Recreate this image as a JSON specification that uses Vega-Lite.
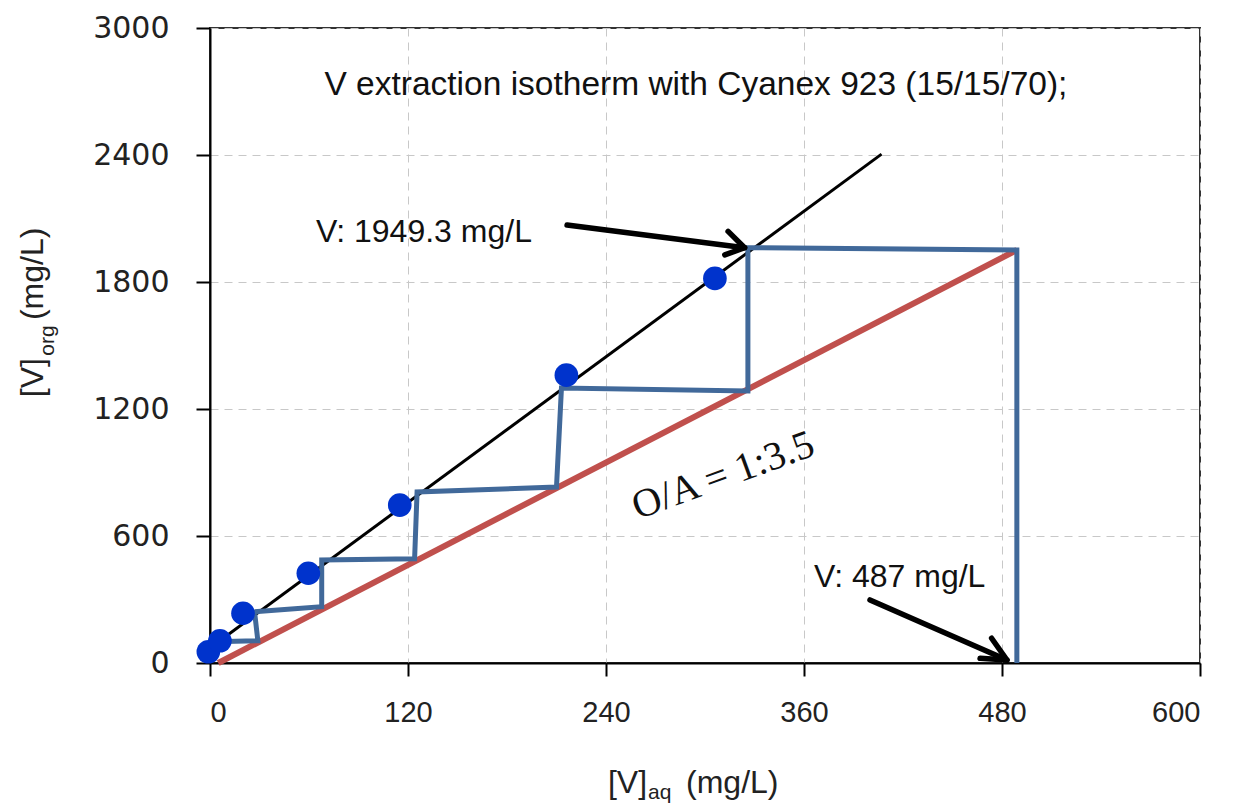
{
  "$schema": "https://vega.github.io/schema/vega-lite/v6.json",
  "width": 990,
  "height": 635,
  "autosize": "none",
  "padding": {"left": 210, "top": 28, "right": 41, "bottom": 143},
  "background": "white",
  "config": {
    "view": {"stroke": "#333333", "strokeWidth": 2},
    "font": "Liberation Sans"
  },
  "datasets": {
    "pts": [
      {"x": -1, "y": 53},
      {"x": 6, "y": 105},
      {"x": 20, "y": 235},
      {"x": 59.6, "y": 424},
      {"x": 115, "y": 746},
      {"x": 216, "y": 1360},
      {"x": 306, "y": 1817}
    ],
    "lines": [
      {"series": "fit", "i": 0, "x": 0, "y": 71},
      {"series": "fit", "i": 1, "x": 407, "y": 2404},
      {"series": "op", "i": 0, "x": 5, "y": 0},
      {"series": "op", "i": 1, "x": 489, "y": 1951},
      {"series": "steps", "i": 0, "x": 489, "y": 0},
      {"series": "steps", "i": 1, "x": 489, "y": 1951},
      {"series": "steps", "i": 2, "x": 326, "y": 1962},
      {"series": "steps", "i": 3, "x": 326, "y": 1285},
      {"series": "steps", "i": 4, "x": 213, "y": 1299},
      {"series": "steps", "i": 5, "x": 210, "y": 831},
      {"series": "steps", "i": 6, "x": 125.5, "y": 808},
      {"series": "steps", "i": 7, "x": 124, "y": 492},
      {"series": "steps", "i": 8, "x": 67.7, "y": 487},
      {"series": "steps", "i": 9, "x": 67.7, "y": 266},
      {"series": "steps", "i": 10, "x": 27, "y": 242},
      {"series": "steps", "i": 11, "x": 29, "y": 105},
      {"series": "steps", "i": 12, "x": 3, "y": 100},
      {"series": "a1", "i": 0, "x": 216.4, "y": 2069},
      {"series": "a1", "i": 1, "x": 324, "y": 1962},
      {"series": "a1h", "i": 0, "x": 314, "y": 2039},
      {"series": "a1h", "i": 1, "x": 324, "y": 1962},
      {"series": "a1h", "i": 2, "x": 312, "y": 1928},
      {"series": "a2", "i": 0, "x": 400, "y": 298},
      {"series": "a2", "i": 1, "x": 483, "y": 14},
      {"series": "a2h", "i": 0, "x": 473.7, "y": 117},
      {"series": "a2h", "i": 1, "x": 483, "y": 14},
      {"series": "a2h", "i": 2, "x": 466.7, "y": 22}
    ]
  },
  "layer": [
    {
      "data": {"name": "lines"},
      "transform": [{"filter": "datum.series == 'fit'"}],
      "mark": {"type": "line", "color": "#000000", "strokeWidth": 3, "strokeCap": "butt"},
      "encoding": {
        "x": {
          "field": "x", "type": "quantitative",
          "scale": {"domain": [0, 600], "nice": false, "zero": false},
          "axis": {
            "values": [0, 120, 240, 360, 480, 600],
            "title": null,
            "domainColor": "#000000", "domainWidth": 2,
            "tickColor": "#000000", "tickWidth": 2, "tickSize": 13,
            "labelFont": "Liberation Sans", "labelFontSize": 29, "labelColor": "#222222",
            "labelPadding": 22,
            "gridColor": "#c8c8c8", "gridDash": [8, 6], "gridWidth": 1
          }
        },
        "y": {
          "field": "y", "type": "quantitative",
          "scale": {"domain": [0, 3000], "nice": false, "zero": false},
          "axis": {
            "values": [0, 600, 1200, 1800, 2400, 3000],
            "format": "d",
            "title": null,
            "domainColor": "#000000", "domainWidth": 2,
            "tickColor": "#000000", "tickWidth": 2, "tickSize": 14,
            "labelFont": "DejaVu Sans", "labelFontSize": 30, "labelColor": "#222222",
            "labelPadding": 27,
            "gridColor": "#c8c8c8", "gridDash": [8, 6], "gridWidth": 1
          }
        },
        "order": {"field": "i", "type": "quantitative"}
      }
    },
    {
      "data": {"name": "lines"},
      "transform": [{"filter": "datum.series == 'op'"}],
      "mark": {"type": "line", "color": "#C0504D", "strokeWidth": 6, "strokeCap": "butt"},
      "encoding": {
        "x": {"field": "x", "type": "quantitative"},
        "y": {"field": "y", "type": "quantitative"},
        "order": {"field": "i", "type": "quantitative"}
      }
    },
    {
      "data": {"name": "lines"},
      "transform": [{"filter": "datum.series == 'steps'"}],
      "mark": {"type": "line", "color": "#41699A", "strokeWidth": 5, "strokeCap": "butt", "strokeJoin": "miter"},
      "encoding": {
        "x": {"field": "x", "type": "quantitative"},
        "y": {"field": "y", "type": "quantitative"},
        "order": {"field": "i", "type": "quantitative"}
      }
    },
    {
      "data": {"name": "lines"},
      "transform": [{"filter": "datum.series != 'fit' && datum.series != 'op' && datum.series != 'steps'"}],
      "mark": {"type": "line", "color": "#000000", "strokeWidth": 5.5, "strokeCap": "round", "strokeJoin": "round"},
      "encoding": {
        "x": {"field": "x", "type": "quantitative"},
        "y": {"field": "y", "type": "quantitative"},
        "detail": {"field": "series"},
        "order": {"field": "i", "type": "quantitative"}
      }
    },
    {
      "data": {"name": "pts"},
      "mark": {"type": "point", "shape": "circle", "filled": true, "opacity": 1, "color": "#0033CC", "size": 560, "clip": false},
      "encoding": {
        "x": {"field": "x", "type": "quantitative"},
        "y": {"field": "y", "type": "quantitative"}
      }
    },
    {
      "data": {"values": [
        {"t": "V extraction isotherm with Cyanex 923 (15/15/70);", "x": 294.5, "y": 2730}
      ]},
      "mark": {"type": "text", "font": "Liberation Sans", "fontSize": 33.5, "color": "#111111", "align": "center", "baseline": "middle"},
      "encoding": {
        "x": {"field": "x", "type": "quantitative"},
        "y": {"field": "y", "type": "quantitative"},
        "text": {"field": "t"}
      }
    },
    {
      "data": {"values": [
        {"t": "V: 1949.3 mg/L", "x": 129.7, "y": 2036},
        {"t": "V: 487 mg/L", "x": 418, "y": 406}
      ]},
      "mark": {"type": "text", "font": "Liberation Sans", "fontSize": 32, "color": "#111111", "align": "center", "baseline": "middle"},
      "encoding": {
        "x": {"field": "x", "type": "quantitative"},
        "y": {"field": "y", "type": "quantitative"},
        "text": {"field": "t"}
      }
    },
    {
      "data": {"values": [{"t": "O/A = 1:3.5", "x": 311, "y": 885}]},
      "mark": {"type": "text", "font": "Liberation Serif", "fontSize": 40, "color": "#111111", "align": "center", "baseline": "middle", "angle": 340},
      "encoding": {
        "x": {"field": "x", "type": "quantitative"},
        "y": {"field": "y", "type": "quantitative"},
        "text": {"field": "t"}
      }
    },
    {
      "data": {"values": [
        {"t": "[V]", "x": 241.2, "y": -567},
        {"t": "(mg/L)", "x": 288.5, "y": -567}
      ]},
      "mark": {"type": "text", "font": "Liberation Sans", "fontSize": 32, "color": "#222222", "align": "left", "baseline": "middle", "clip": false},
      "encoding": {
        "x": {"field": "x", "type": "quantitative"},
        "y": {"field": "y", "type": "quantitative"},
        "text": {"field": "t"}
      }
    },
    {
      "data": {"values": [{"t": "aq", "x": 265.5, "y": -614}]},
      "mark": {"type": "text", "font": "Liberation Sans", "fontSize": 21, "color": "#222222", "align": "left", "baseline": "middle", "clip": false},
      "encoding": {
        "x": {"field": "x", "type": "quantitative"},
        "y": {"field": "y", "type": "quantitative"},
        "text": {"field": "t"}
      }
    },
    {
      "data": {"values": [
        {"t": "[V]", "x": -107, "y": 1256},
        {"t": "(mg/L)", "x": -107, "y": 1620}
      ]},
      "mark": {"type": "text", "font": "Liberation Sans", "fontSize": 32, "color": "#222222", "align": "left", "baseline": "middle", "angle": 270, "clip": false},
      "encoding": {
        "x": {"field": "x", "type": "quantitative"},
        "y": {"field": "y", "type": "quantitative"},
        "text": {"field": "t"}
      }
    },
    {
      "data": {"values": [{"t": "org", "x": -98, "y": 1452}]},
      "mark": {"type": "text", "font": "Liberation Sans", "fontSize": 21, "color": "#222222", "align": "left", "baseline": "middle", "angle": 270, "clip": false},
      "encoding": {
        "x": {"field": "x", "type": "quantitative"},
        "y": {"field": "y", "type": "quantitative"},
        "text": {"field": "t"}
      }
    }
  ]
}
